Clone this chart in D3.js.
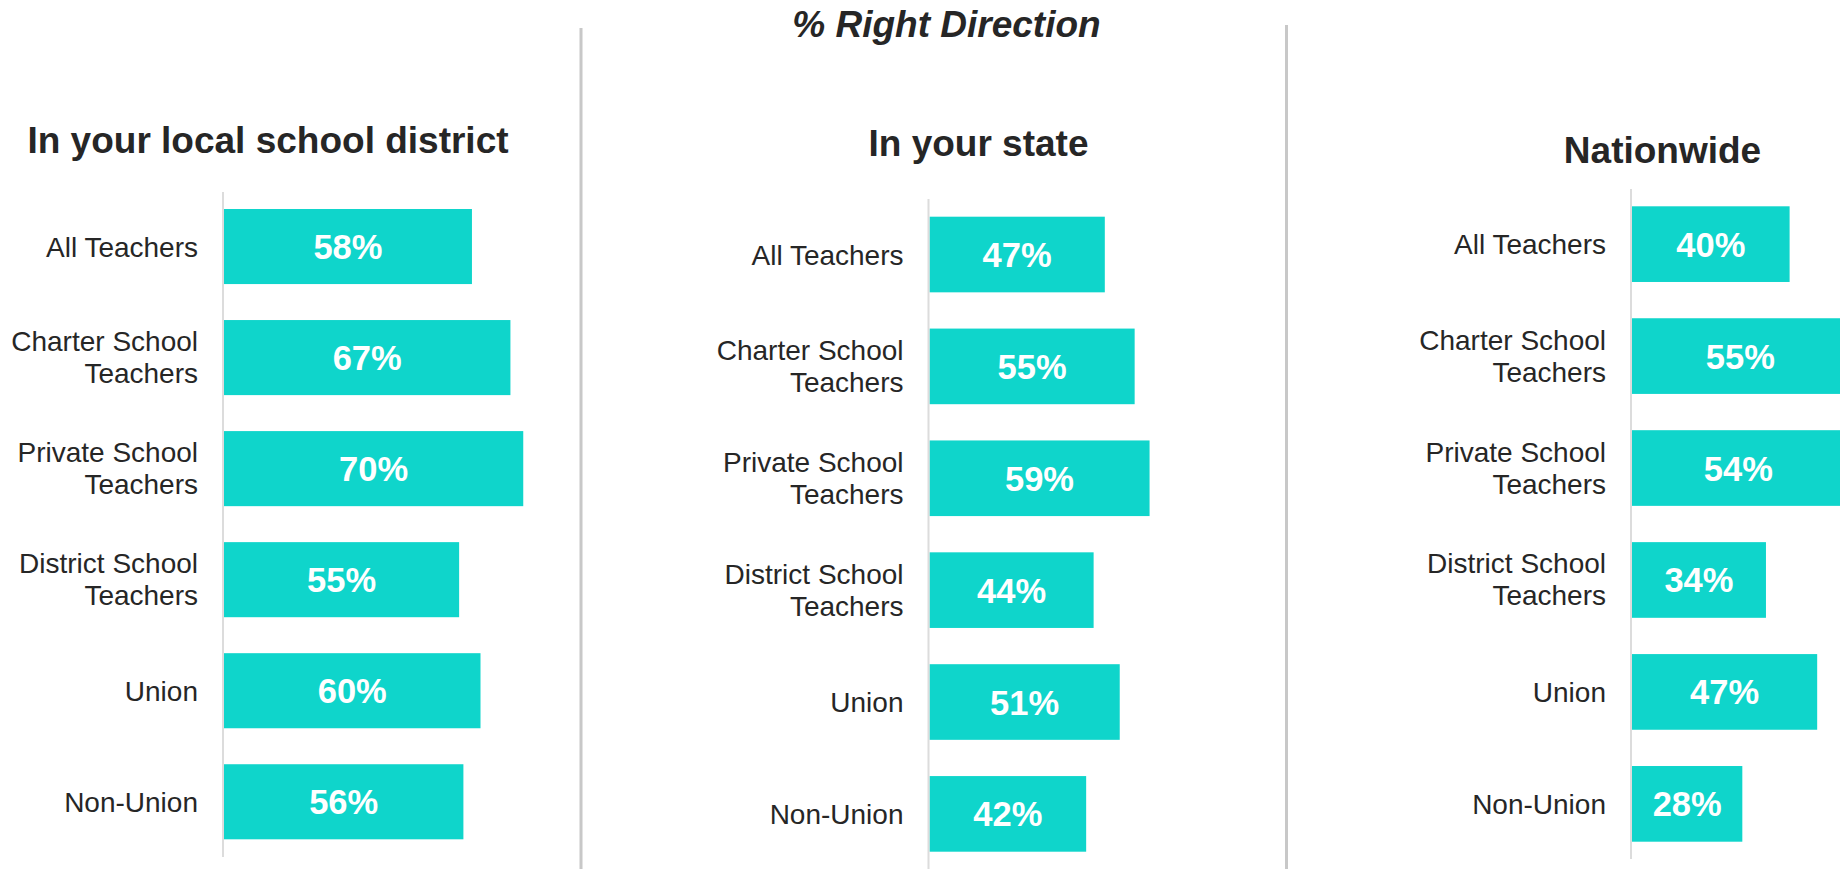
<!DOCTYPE html>
<html>
<head>
<meta charset="utf-8">
<script src="https://cdn.jsdelivr.net/npm/d3@7"></script>
<style>
  body { margin: 0; background: #fff; overflow: hidden; }
  text { font-family: "Liberation Sans", Arial, sans-serif; }
</style>
</head>
<body>
<div id="chart"></div>
<script>
const categories = ["All Teachers", "Charter School Teachers", "Private School Teachers", "District School Teachers", "Union", "Non-Union"];
const localValues = [58, 67, 70, 55, 60, 56];
const stateValues = [47, 55, 59, 44, 51, 42];
const nationValues = [40, 55, 54, 34, 47, 28];
const panelTitles = ["In your local school district", "In your state", "Nationwide"];
const chartTitle = "% Right Direction";

const W = 1840, H = 869;
const barColor = "#0fd5cb";
const textColor = "#262626";

// each panel has its own scale and placement, like the original slide
const panels = [
    { values: localValues, title: panelTitles[0], axisX: 223, pxPerPct: 4.275, top: 209, bottom: 839.3, lineTop: 192, lineBottom: 857, titleX: 268, titleY: 153 },
    { values: stateValues, title: panelTitles[1], axisX: 928.5, pxPerPct: 3.73, top: 216.7, bottom: 851.7, lineTop: 199, lineBottom: 869, titleX: 978.5, titleY: 156 },
    { values: nationValues, title: panelTitles[2], axisX: 1631, pxPerPct: 3.94, top: 206.3, bottom: 841.7, lineTop: 189, lineBottom: 859, titleX: 1662.5, titleY: 163 }
];

const svg = d3.select("#chart")
    .append("svg")
    .attr("width", W)
    .attr("height", H);

// main title
svg.append("text")
    .attr("x", 946.5)
    .attr("y", 37)
    .attr("text-anchor", "middle")
    .style("font-size", "37px")
    .style("font-weight", "bold")
    .style("font-style", "italic")
    .style("fill", textColor)
    .text(chartTitle);

// grey separators between panels
[{ x: 581, y: 28 }, { x: 1286.5, y: 25 }].forEach(d => {
    svg.append("line")
        .attr("x1", d.x).attr("x2", d.x)
        .attr("y1", d.y).attr("y2", H)
        .style("stroke", "#c8c8c8")
        .style("stroke-width", 3);
});

function splitLabel(label) {
    const words = label.split(" ");
    if (words.length > 2) return [words.slice(0, 2).join(" "), words.slice(2).join(" ")];
    return [label];
}

panels.forEach(p => {
    const rows = categories.map((c, i) => ({ category: c, value: p.values[i] }));

    const x = d3.scaleLinear()
        .domain([0, 100])
        .range([p.axisX + 1, p.axisX + 1 + 100 * p.pxPerPct]);

    const y = d3.scaleBand()
        .domain(categories)
        .range([p.top, p.bottom])
        .paddingInner(0.324)
        .paddingOuter(0);

    const g = svg.append("g");

    // panel title
    g.append("text")
        .attr("x", p.titleX)
        .attr("y", p.titleY)
        .attr("text-anchor", "middle")
        .style("font-size", "37px")
        .style("font-weight", "bold")
        .style("fill", textColor)
        .text(p.title);

    // bars
    g.selectAll(".bar")
        .data(rows)
        .enter()
        .append("rect")
        .attr("class", "bar")
        .attr("x", x(0))
        .attr("y", d => y(d.category))
        .attr("width", d => x(d.value) - x(0))
        .attr("height", y.bandwidth())
        .style("fill", barColor);

    // value labels inside bars
    g.selectAll(".value")
        .data(rows)
        .enter()
        .append("text")
        .attr("class", "value")
        .attr("x", d => (x(0) + x(d.value)) / 2)
        .attr("y", d => y(d.category) + y.bandwidth() / 2 + 12.5)
        .attr("text-anchor", "middle")
        .style("font-size", "34.5px")
        .style("font-weight", "bold")
        .style("fill", "#fff")
        .text(d => d.value + "%");

    // category axis
    const axis = g.append("g")
        .attr("transform", `translate(${p.axisX},0)`)
        .call(d3.axisLeft(y).tickSize(0).tickPadding(25));

    axis.select(".domain").remove();

    axis.selectAll(".tick text")
        .attr("dy", null)
        .style("font-size", "28px")
        .style("fill", textColor)
        .each(function(d) {
            const lines = splitLabel(d);
            const t = d3.select(this).text(null);
            lines.forEach((line, i) => {
                t.append("tspan")
                    .attr("x", -25)
                    .attr("y", 10 - (lines.length - 1) * 16.5 + i * 32)
                    .text(line);
            });
        });

    // vertical axis line
    g.append("line")
        .attr("x1", p.axisX).attr("x2", p.axisX)
        .attr("y1", p.lineTop).attr("y2", p.lineBottom)
        .style("stroke", "#dcdcdc")
        .style("stroke-width", 2);
});
</script>
</body>
</html>
